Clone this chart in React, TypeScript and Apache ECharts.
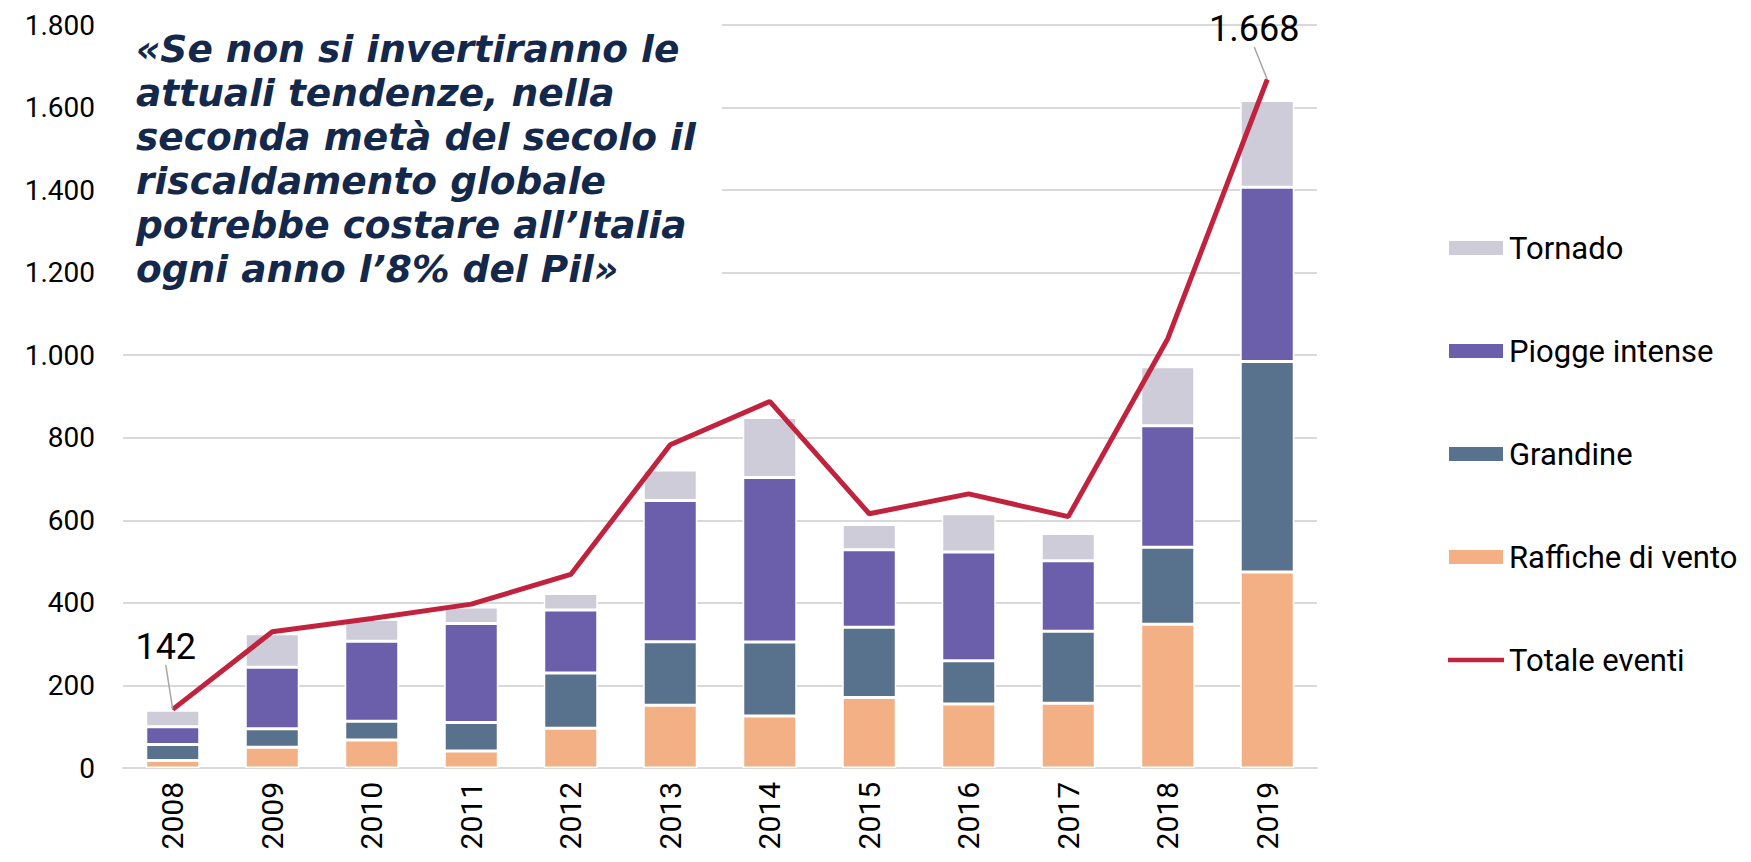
import { useEffect, useRef } from 'react';
import * as echarts from 'echarts';

const years = ['2008', '2009', '2010', '2011', '2012', '2013', '2014', '2015', '2016', '2017', '2018', '2019'];
const raffiche = [18, 50, 68, 41, 96, 152, 126, 171, 155, 157, 348, 475];
const grandine = [39, 45, 45, 69, 134, 154, 179, 170, 105, 174, 187, 510];
const piogge = [43, 149, 194, 240, 153, 342, 399, 188, 263, 171, 294, 422];
const tornado = [40, 81, 53, 40, 40, 74, 145, 61, 93, 66, 143, 210];
const totale = [142, 330, 362, 397, 469, 783, 888, 616, 664, 609, 1040, 1668];
const labelledPoints = [0, 11];

const quote = [
  '«Se non si invertiranno le',
  'attuali tendenze, nella',
  'seconda metà del secolo il',
  'riscaldamento globale',
  'potrebbe costare all’Italia',
  'ogni anno l’8% del Pil»',
];

const fmt = (v: number) => {
  if (v >= 1000) {
    const th = Math.floor(v / 1000);
    const rest = String(Math.round(v % 1000)).padStart(3, '0');
    return `${th}.${rest}`;
  }
  return String(v);
};

export default function App() {
  const ref = useRef<HTMLDivElement>(null);
  useEffect(() => {
    document.body.style.margin = '0';
    const chart = echarts.init(ref.current!, null, { renderer: 'svg' });
    const barBase = {
      type: 'bar',
      stack: 'total',
      barWidth: 54,
      itemStyle: { borderColor: '#ffffff', borderWidth: 1.5 },
    };
    chart.setOption({
      animation: false,
      textStyle: { fontFamily: 'Roboto' },
      grid: { left: 123, right: 434, top: 25, bottom: 94 },
      legend: {
        orient: 'vertical',
        left: 1442,
        top: 227,
        itemWidth: 56,
        itemHeight: 16,
        itemGap: 71,
        textStyle: { fontFamily: 'Roboto', fontSize: 31, color: '#000', lineHeight: 32 },
        data: [
          { name: 'Tornado', icon: 'rect' },
          { name: 'Piogge intense', icon: 'rect' },
          { name: 'Grandine', icon: 'rect' },
          { name: 'Raffiche di vento', icon: 'rect' },
          { name: 'Totale eventi', icon: 'path://M0,0 H64 V5 H0 Z' },
        ],
      },
      xAxis: {
        type: 'category',
        data: years,
        axisLine: { show: true, lineStyle: { color: '#d9d9d9', width: 2 } },
        axisTick: { show: false },
        axisLabel: { rotate: 90, fontSize: 30, color: '#000', fontFamily: 'Roboto', margin: 14 },
      },
      yAxis: {
        type: 'value',
        min: 0,
        max: 1800,
        interval: 200,
        axisLine: { show: false },
        axisTick: { show: false },
        splitLine: { lineStyle: { color: '#d9d9d9', width: 2 } },
        axisLabel: { fontSize: 28, color: '#000', fontFamily: 'Roboto', margin: 28, formatter: fmt },
      },
      graphic: [
        {
          type: 'rect',
          left: 120,
          top: 0,
          z: 10,
          shape: { width: 602, height: 300 },
          style: { fill: '#ffffff' },
        },
        {
          type: 'text',
          left: 136,
          top: 27,
          z: 11,
          style: {
            text: quote.join('\n'),
            fontFamily: 'DejaVu Sans',
            fontStyle: 'italic',
            fontWeight: 'bold',
            fontSize: 37.5,
            lineHeight: 44,
            fill: '#14284b',
          },
        },
      ],
      series: [
        { ...barBase, name: 'Raffiche di vento', data: raffiche, itemStyle: { ...barBase.itemStyle, color: '#f2b084' } },
        { ...barBase, name: 'Grandine', data: grandine, itemStyle: { ...barBase.itemStyle, color: '#58728e' } },
        { ...barBase, name: 'Piogge intense', data: piogge, itemStyle: { ...barBase.itemStyle, color: '#6b5eab' } },
        { ...barBase, name: 'Tornado', data: tornado, itemStyle: { ...barBase.itemStyle, color: '#cdccd8' } },
        {
          type: 'line',
          name: 'Totale eventi',
          symbol: 'circle',
          symbolSize: 1,
          showSymbol: true,
          lineStyle: { color: '#c1233f', width: 5 },
          itemStyle: { color: '#c1233f' },
          data: totale.map((v, i) =>
            labelledPoints.includes(i)
              ? {
                  value: v,
                  label: {
                    show: true,
                    formatter: (p: any) => fmt(p.value),
                    fontSize: 36,
                    color: '#000',
                    fontFamily: 'Roboto',
                    position: 'top',
                    distance: 5,
                  },
                  labelLine: { show: true, lineStyle: { color: '#a6a6a6', width: 1.5 } },
                }
              : v
          ),
          labelLayout: (params: any) =>
            params.dataIndex === 0 ? { dx: -7, dy: -39 } : { dx: -13, dy: -27 },
          z: 5,
        },
      ],
    });
    return () => chart.dispose();
  }, []);
  return <div ref={ref} style={{ width: 1751, height: 862 }} />;
}
